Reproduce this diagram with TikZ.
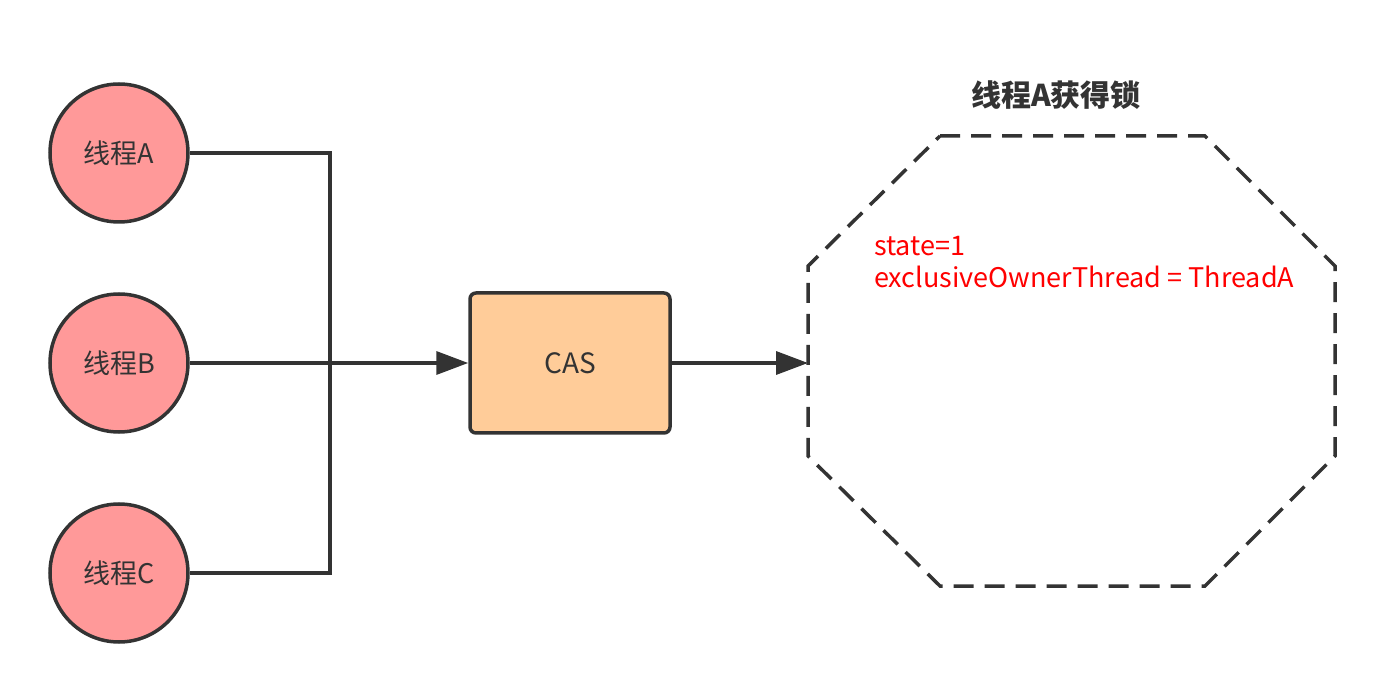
\documentclass[tikz,border=0pt]{standalone}
\usepackage{fontspec}
\setmainfont{Noto Sans CJK SC}
\usetikzlibrary{arrows.meta}
\definecolor{ink}{HTML}{333333}
\definecolor{thr}{HTML}{FF9999}
\definecolor{cas}{HTML}{FFCC99}
\begin{document}
\begin{tikzpicture}[x=1pt,y=-1pt,
  thread/.style={circle,draw=ink,line width=3.5pt,fill=thr,minimum size=138pt,inner sep=0pt,font=\fontsize{27}{30}\selectfont,text=ink},
  casbox/.style={draw=ink,line width=3.5pt,fill=cas,rounded corners=6pt,minimum width=200pt,minimum height=140pt,font=\fontsize{28}{30}\selectfont,text=ink},
  conn/.style={draw=ink,line width=3.5pt},
  tip/.style={-{Triangle[length=32pt,width=23pt]}},
  oct/.style={draw=ink,line width=3.5pt,dash pattern=on 20pt off 11pt}
]
\useasboundingbox (0,0) rectangle (1390,692);
\node[thread] (A) at (119,153) {线程A};
\node[thread] (B) at (119,363) {线程B};
\node[thread] (C) at (119,573) {线程C};
\node[casbox] (cas) at (570,363) {CAS};
\coordinate (j) at (330,363);
\coordinate (lk) at (808,363);
\draw[conn] (A.east) -| (j);
\draw[conn] (C.east) -| (j);
\draw[conn,tip] (B.east) -- (cas.west);
\draw[conn,tip] (cas.east) -- (lk);
\draw[oct] (940,136) -- (1205,136) -- (1335,266) -- (1335,456) -- (1205,586) -- (940,586) -- (808,456) -- (808,266) -- cycle;
\node[font=\fontsize{30}{34}\selectfont\bfseries,text=ink] (title) at (1056,95) {线程A获得锁};
\node[anchor=north west,align=left,text=red,font=\fontsize{27}{32}\selectfont,inner sep=0pt] (info) at (874,236) {state=1\\exclusiveOwnerThread = ThreadA};
\end{tikzpicture}
\end{document}
